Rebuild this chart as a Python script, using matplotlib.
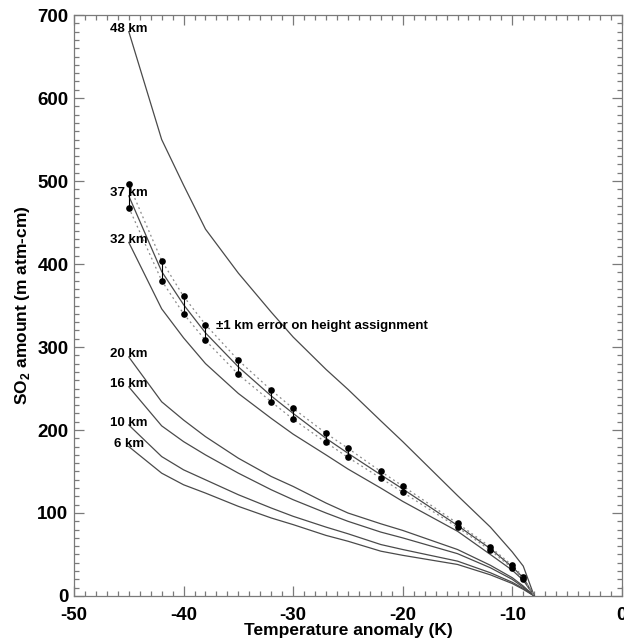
import numpy as np
import matplotlib.pyplot as plt
from matplotlib.ticker import MultipleLocator

plt.rcParams["font.family"] = ["Liberation Sans", "DejaVu Sans"]
plt.rcParams["font.weight"] = "bold"
plt.rcParams["axes.unicode_minus"] = False
plt.rcParams["mathtext.fontset"] = "custom"
plt.rcParams["mathtext.rm"] = "Liberation Sans:bold"
plt.rcParams["mathtext.bf"] = "Liberation Sans:bold"

# ── Temperature anomaly grid (K) ───────────────────────────────────────────
temp_k = [-45, -42, -40, -38, -35, -32, -30, -27, -25, -22, -20, -15, -12, -10, -9, -8]

# ── SO2 amount (m atm-cm) per plume height ─────────────────────────────────
so2_48km = [680, 550, 495, 442, 389, 342, 312, 273, 249, 211, 186, 121, 83, 53, 36, 0]
so2_37km = [482, 391, 351, 317, 276, 241, 220, 190, 172, 146, 129, 85, 57, 35, 22, 0]
so2_32km = [426, 346, 311, 280, 244, 214, 195, 170, 153, 130, 114, 78, 50, 31, 19, 0]
so2_20km = [288, 234, 212, 192, 166, 144, 132, 112, 100, 87, 79, 56, 37, 22, 12, 0]
so2_16km = [252, 205, 186, 170, 148, 128, 116, 100, 90, 77, 70, 51, 34, 20, 10.5, 0]
so2_10km = [206, 168, 152, 140, 122, 106, 96, 83, 75, 62, 56, 42, 28, 16.5, 9, 0]
so2_6km  = [180, 148, 134, 124, 108, 94, 86, 73, 66, 54, 49, 38, 25.5, 15, 8, 0]

# 37 km curve with +/- 1 km height error
so2_38km = [496, 404, 361, 327, 284, 248, 226, 196, 178, 150, 132.5, 87.6, 59, 36.8, 23.3, 0]
so2_36km = [468, 380, 340, 308, 267, 234, 213, 185, 167, 142, 125, 82.8, 55, 33.5, 20.8, 0]

curve_labels = ["48 km", "37 km", "32 km", "20 km", "16 km", "10 km", "6 km"]
curves = [so2_48km, so2_37km, so2_32km, so2_20km, so2_16km, so2_10km, so2_6km]

LINE = "#4a4a4a"
AXIS = "#7a7a7a"

fig = plt.figure(figsize=(6.24, 6.39), dpi=100)
ax = fig.add_axes([0.1186, 0.0673, 0.878, 0.9092])

for name, vals in zip(curve_labels, curves):
    ax.plot(temp_k, vals, color=LINE, lw=0.9)
    ax.text(temp_k[0], vals[0] + 3, name, ha="center", va="center",
            fontsize=9.5, fontweight="bold")

# error envelope: dotted bounds, bars and dots
for bound in (so2_38km, so2_36km):
    ax.plot(temp_k, bound, color="#8a8a8a", lw=0.9, ls=(0, (1.5, 2.5)))
    ax.plot(temp_k[:-1], bound[:-1], "o", color="black", ms=4.8, mec="none")
ax.vlines(temp_k[:-1], so2_36km[:-1], so2_38km[:-1], color="black", lw=0.8)

ax.text(-37.0, 325, "±1 km error on height assignment", ha="left", va="center",
        fontsize=9.5, fontweight="bold")

# ── Axes styling ───────────────────────────────────────────────────────────
ax.set_xlim(-50, 0)
ax.set_ylim(0, 700)
ax.xaxis.set_major_locator(MultipleLocator(10))
ax.xaxis.set_minor_locator(MultipleLocator(1))
ax.yaxis.set_major_locator(MultipleLocator(100))
ax.yaxis.set_minor_locator(MultipleLocator(10))
ax.tick_params(which="both", direction="in", top=True, right=True,
               color=AXIS, width=0.9, labelsize=13.5)
ax.tick_params(which="major", length=7.2)
ax.tick_params(which="minor", length=3.6)
ax.tick_params(axis="x", pad=8)
ax.tick_params(axis="y", pad=4)
for lbl in ax.get_xticklabels() + ax.get_yticklabels():
    lbl.set_fontweight("bold")
for sp in ax.spines.values():
    sp.set_color(AXIS)
    sp.set_linewidth(0.9)

ax.set_xlabel("Temperature anomaly (K)", fontsize=12.5, fontweight="bold", labelpad=-1)
ax.set_ylabel(r"SO$_\mathbf{2}$ amount (m atm-cm)", fontsize=12.5, fontweight="bold",
              labelpad=4)

fig.savefig("out.png", dpi=100)
